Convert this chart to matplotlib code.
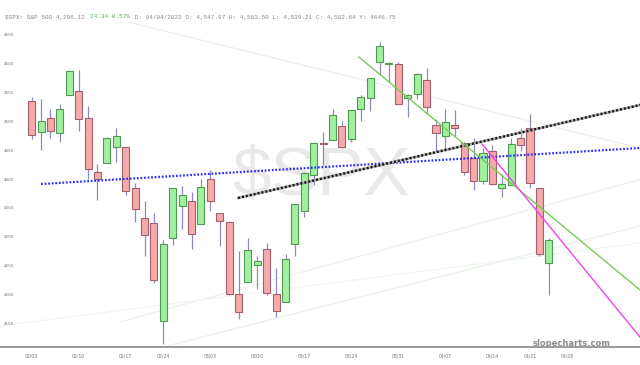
import matplotlib
matplotlib.use("Agg")
import matplotlib.pyplot as plt
from matplotlib.patches import Rectangle

# ---- data (S&P 500 daily, Feb 3 - Apr 25 2022) ----
opens = [4535.41, 4482.79, 4505.75, 4480.02, 4547.00, 4553.24, 4506.27, 4412.61, 4429.28, 4455.75,
         4456.06, 4384.57, 4332.74, 4324.93, 4155.77, 4298.38, 4354.17, 4363.14, 4322.56, 4401.31,
         4342.12, 4327.01, 4202.66, 4223.10, 4252.55, 4279.50, 4202.75, 4188.82, 4288.14, 4345.11,
         4407.34, 4462.40, 4469.10, 4493.10, 4469.98, 4522.66, 4541.09, 4602.86, 4599.02, 4599.61,
         4540.32, 4547.97, 4572.45, 4494.17, 4474.65, 4494.15, 4462.64, 4437.59, 4397.32, 4449.12,
         4385.63, 4390.63, 4472.26, 4489.17, 4385.83, 4255.34]
highs = [4542.88, 4539.66, 4521.86, 4531.32, 4590.03, 4588.92, 4526.33, 4426.22, 4472.77, 4489.55,
         4456.06, 4394.60, 4362.12, 4341.51, 4294.73, 4385.34, 4388.84, 4378.45, 4401.48, 4416.78,
         4342.12, 4327.01, 4276.94, 4299.40, 4268.28, 4291.01, 4247.57, 4271.05, 4357.86, 4412.67,
         4465.40, 4481.75, 4522.00, 4501.07, 4520.58, 4546.03, 4575.65, 4637.30, 4603.07, 4603.36,
         4548.70, 4583.50, 4593.45, 4503.94, 4521.16, 4520.41, 4464.35, 4471.00, 4453.92, 4460.46,
         4410.31, 4471.03, 4488.29, 4512.94, 4385.83, 4299.02]
lows = [4470.39, 4451.50, 4471.47, 4465.40, 4547.00, 4484.31, 4401.41, 4364.84, 4429.28, 4429.68,
        4373.81, 4327.22, 4267.11, 4221.51, 4114.65, 4286.83, 4315.12, 4279.54, 4322.56, 4345.56,
        4284.98, 4199.85, 4157.87, 4223.10, 4209.80, 4200.49, 4161.72, 4187.90, 4267.92, 4335.65,
        4390.57, 4424.30, 4469.10, 4455.81, 4465.17, 4501.07, 4517.69, 4581.32, 4569.01, 4530.41,
        4507.57, 4539.21, 4514.17, 4450.04, 4450.30, 4474.60, 4408.38, 4381.34, 4392.70, 4390.77,
        4370.30, 4390.63, 4448.76, 4384.47, 4267.62, 4200.82]
closes = [4477.44, 4500.53, 4483.87, 4521.54, 4587.18, 4504.08, 4418.64, 4401.67, 4471.07, 4475.01,
          4380.26, 4348.87, 4304.76, 4225.50, 4288.70, 4384.65, 4373.94, 4306.26, 4386.54, 4363.49,
          4328.87, 4201.09, 4170.70, 4277.88, 4259.52, 4204.31, 4173.11, 4262.45, 4357.86, 4411.67,
          4463.12, 4461.18, 4511.61, 4456.24, 4520.16, 4543.06, 4575.52, 4631.60, 4602.45, 4530.41,
          4545.86, 4582.64, 4525.12, 4481.15, 4500.21, 4488.28, 4412.53, 4397.45, 4446.59, 4392.59,
          4391.69, 4462.21, 4459.45, 4393.66, 4271.78, 4296.12]

xtick_pos = [0, 5, 10, 14, 19, 24, 29, 34, 39, 44, 49, 53, 57]
xtick_labels = ["02/03", "02/10", "02/17", "02/24", "03/03", "03/10", "03/17",
                "03/24", "03/31", "04/07", "04/14", "04/21", "04/28"]
ytick_vals = [4650, 4600, 4550, 4500, 4450, 4400, 4350, 4300, 4250, 4200, 4150]

# trend lines: (x0, y0, x1, y1) in (bar index, price)
blue_line = [1.0, 4392.2, 70.0, 4459.7]
black_line = [21.95, 4368.0, 70.0, 4548.9]
green_line = [34.8, 4611.9, 70.0, 4137.4]
magenta_line = [47.9, 4461.4, 70.0, 4022.0]
faint_gray_line = [10.46, 4671.6, 70.0, 4433.0]
faint_green_line1 = [13.97, 4110.2, 70.0, 4341.5]
faint_green_line2 = [9.39, 4153.5, 70.0, 4423.6]
faint_green_line3 = [-3.37, 4146.5, 70.0, 4301.4]

header_main = "$SPX: S&P 500 4,296.12 "
header_chg = "24.34 0.57%"
header_rest = " D: 04/04/2022 O: 4,547.97 H: 4,583.50 L: 4,539.21 C: 4,582.64 Y: 4646.75"

# ---- figure ----
W, H, DPI = 640, 365, 100
fig = plt.figure(figsize=(W / DPI, H / DPI), dpi=DPI)
fig.patch.set_facecolor("white")
ax = fig.add_axes([0, 18 / H, 1, 347 / H])
ax.set_facecolor("white")
ax.set_xlim(-3.37, 64.7)
ax.set_ylim(4110.2, 4710.6)

# watermark
ax.text(0.502, 0.49, "$SPX", transform=ax.transAxes, ha="center", va="center",
        fontsize=50, color="#e9e9e9", family="Liberation Sans", zorder=0)

# faint lines
for ln, col in [(faint_gray_line, "#ebebeb"), (faint_green_line1, "#e3f2e3"),
                (faint_green_line2, "#e6f3e6"), (faint_green_line3, "#ecf5ec")]:
    ax.plot([ln[0], ln[2]], [ln[1], ln[3]], color=col, lw=0.8, zorder=1)

# candles
bw = 0.75
for i, (o, h, l, c) in enumerate(zip(opens, highs, lows, closes)):
    up = c >= o
    fill = "#a0f0a0" if up else "#f7aaaa"
    edge = "#4f9a55" if up else "#a06070"
    ax.plot([i, i], [l, h], color="#8c8cbc", lw=0.9, zorder=2, solid_capstyle="butt")
    bottom = min(o, c)
    height = max(abs(c - o), 0.8)
    ax.add_patch(Rectangle((i - bw / 2, bottom), bw, height, facecolor=fill,
                           edgecolor=edge, lw=0.8, zorder=3))

# trend lines
ax.plot([blue_line[0], blue_line[2]], [blue_line[1], blue_line[3]], color="#2b2bff",
        lw=1.6, linestyle=(0, (0.8, 0.8)), zorder=4)
ax.plot([black_line[0], black_line[2]], [black_line[1], black_line[3]], color="#aaaaaa",
        lw=1.8, zorder=4)
ax.plot([black_line[0], black_line[2]], [black_line[1], black_line[3]], color="#1a1a1a",
        lw=1.8, linestyle=(0, (0.8, 0.8)), zorder=4)
ax.plot([green_line[0], green_line[2]], [green_line[1], green_line[3]], color="#77cc55",
        lw=1.0, zorder=4)
ax.plot([magenta_line[0], magenta_line[2]], [magenta_line[1], magenta_line[3]], color="#ee44ee",
        lw=1.0, zorder=4)

# axes styling
for s in ["top", "left", "right"]:
    ax.spines[s].set_visible(False)
ax.spines["bottom"].set_color("#9a9a9a")
ax.spines["bottom"].set_linewidth(1.4)
ax.set_yticks([])
ax.set_xticks(xtick_pos)
ax.set_xticklabels(xtick_labels, fontsize=3.3, color="#777777")
ax.tick_params(axis="x", length=0, pad=5)

# y labels inside plot
for v in ytick_vals:
    ax.text(0.006, v, str(v), transform=ax.get_yaxis_transform(), fontsize=3.0,
            color="#777777", ha="left", va="center")

# watermark site
ax.text(572 / W, 4, "slopecharts.com", transform=ax.transAxes, ha="center", va="bottom",
        fontsize=6, fontweight="bold", color="#8c8c8c")
# place in pixel-space via offset
ax.texts[-1].set_position((572 / W, (347 - 343) / 347))
ax.texts[-1].set_va("center")

# header
fs = 4.45
cw = 0.6 * fs * DPI / 72.0  # char width in pixels
x0 = 5
yh = 1 - 17 / H
fig.text(x0 / W, yh, header_main, fontsize=fs, family="Liberation Mono", color="#888888",
         ha="left", va="center")
x1 = x0 + len(header_main) * cw
fig.text(x1 / W, yh, header_chg, fontsize=fs, family="Liberation Mono", color="#55b055",
         ha="left", va="center")
x2 = x1 + len(header_chg) * cw
fig.text(x2 / W, yh, header_rest, fontsize=fs, family="Liberation Mono", color="#888888",
         ha="left", va="center")

fig.savefig("out.png", dpi=DPI)
